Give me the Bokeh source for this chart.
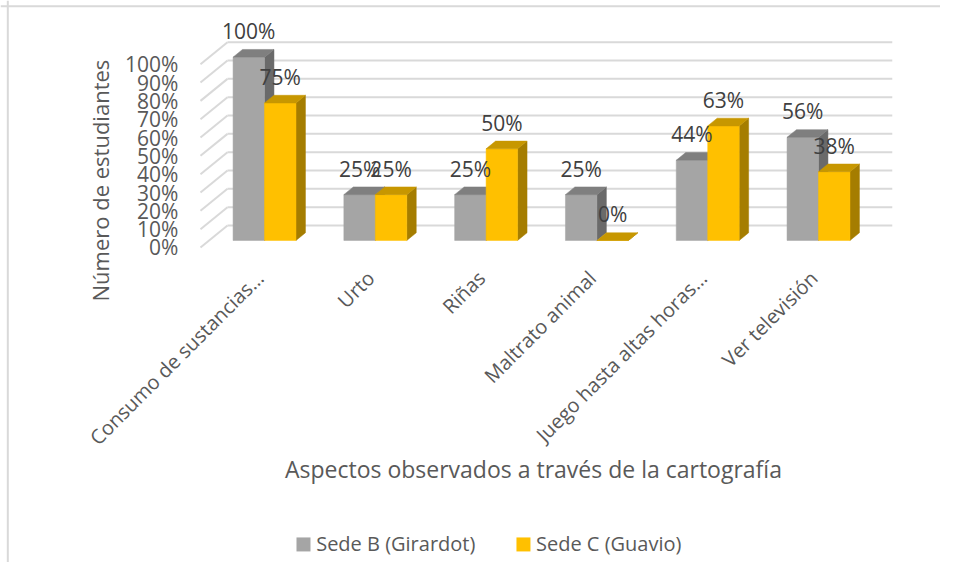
import math
from bokeh.plotting import figure
from bokeh.models import Range1d, Span
from bokeh.core.properties import value
from bokeh.embed import file_html
from bokeh.resources import INLINE

# ---------------- data ----------------
categories = ["Consumo de sustancias…", "Urto", "Riñas", "Maltrato animal",
              "Juego hasta altas horas…", "Ver televisión"]
sede_b = [100, 25, 25, 25, 43.75, 56.25]   # Sede B (Girardot)
sede_c = [75, 25, 50, 0, 62.5, 37.5]       # Sede C (Guavio)
series_names = ["Sede B (Girardot)", "Sede C (Guavio)"]
y_ticks = [0, 10, 20, 30, 40, 50, 60, 70, 80, 90, 100]
x_title = "Aspectos observados a través de la cartografía"
y_title = "Número de estudiantes"

# ---------------- style / geometry ----------------
FONT = value("Open Sans")
TXT = "#595959"
LBL = "#404040"
GRID = "#d9d9d9"
front_cols = ["#A5A5A5", "#FFC000"]
top_cols = ["#7F7F7F", "#C79700"]
side_cols = ["#6A6A6A", "#A57D00"]

DX, DY = 0.2437, 12.0        # full depth offset (category units, percent units)
D0 = 0.32                    # depth position of bar front
BD = 0.35                    # bar depth fraction
W = 0.284                    # bar width (category units)
sx, sy = D0 * DX, D0 * DY
bdx, bdy = BD * DX, BD * DY

p = figure(width=940, height=562, output_backend="svg", toolbar_location=None,
           x_range=Range1d(-1.805, 6.679), y_range=Range1d(-171.85, 134.75),
           x_axis_location=None, y_axis_location=None, min_border=0)
p.grid.visible = False
p.outline_line_color = None
p.background_fill_color = "white"

# chart border (top / left)
p.add_layout(Span(location=131.6, dimension="width", line_color=GRID, line_width=2))
p.add_layout(Span(location=-1.739, dimension="height", line_color=GRID, line_width=2))

n = len(categories)
# back wall gridlines and side-wall diagonals
gx, gy = [], []
for t in y_ticks:
    gx.append([DX, n + DX]); gy.append([t + DY, t + DY])
    gx.append([0, DX]); gy.append([t, t + DY])
p.multi_line(gx, gy, line_color=GRID, line_width=2)

# tick labels
p.text(x=[-0.199] * len(y_ticks), y=y_ticks, text=[f"{t}%" for t in y_ticks],
       text_font=FONT, text_font_size=value("21px"), text_color=TXT,
       text_align="right", text_baseline="middle")

# bars (3D)
fx, fy, fc = [], [], []
lab_x, lab_y, lab_t = [], [], []
for i in range(n):
    for s, vals in enumerate([sede_b, sede_c]):
        v = vals[i]
        x0 = i + 0.5 + sx + (s - 1) * W
        x1 = x0 + W
        yb, yt = sy, sy + v
        # side face
        fx.append([x1, x1 + bdx, x1 + bdx, x1]); fy.append([yb, yb + bdy, yt + bdy, yt]); fc.append(side_cols[s])
        # front face
        fx.append([x0, x1, x1, x0]); fy.append([yb, yb, yt, yt]); fc.append(front_cols[s])
        # top face
        fx.append([x0, x1, x1 + bdx, x0 + bdx]); fy.append([yt, yt, yt + bdy, yt + bdy]); fc.append(top_cols[s])
        lab_x.append((x0 + x1) / 2)
        lab_y.append(yt + 14.2)
        lab_t.append(f"{math.floor(v + 0.5)}%")
p.patches(fx, fy, fill_color=fc, line_color=fc, line_width=0.5)

# data labels
p.text(x=lab_x, y=lab_y, text=lab_t, text_font=FONT, text_font_size=value("21px"),
       text_color=LBL, text_align="center", text_baseline="middle")

# category labels (rotated)
p.text(x=[i + 0.5 - 0.05 for i in range(n)], y=[-9.5] * n, text=categories,
       angle=math.pi / 4, text_font=FONT, text_font_size=value("20px"), text_color=TXT,
       text_align="right", text_baseline="top")

# axis titles
p.text(x=[3.005], y=[-120.6], text=[x_title], text_font=FONT, text_font_size=value("23px"),
       text_color=TXT, text_align="center", text_baseline="middle")
p.text(x=[-0.9025], y=[36.5], text=[y_title], angle=math.pi / 2, text_font=FONT,
       text_font_size=value("22px"), text_color=TXT, text_align="center", text_baseline="middle")

# legend
p.scatter(x=[0.9296, 2.915], y=[-162.0, -162.0], marker="square", size=14,
          fill_color=front_cols, line_color=None)
p.text(x=[1.044, 3.028], y=[-161.5, -161.5], text=series_names, text_font=FONT,
       text_font_size=value("20px"), text_color=TXT, text_align="left", text_baseline="middle")

open("out.html", "w").write(file_html(p, INLINE))
